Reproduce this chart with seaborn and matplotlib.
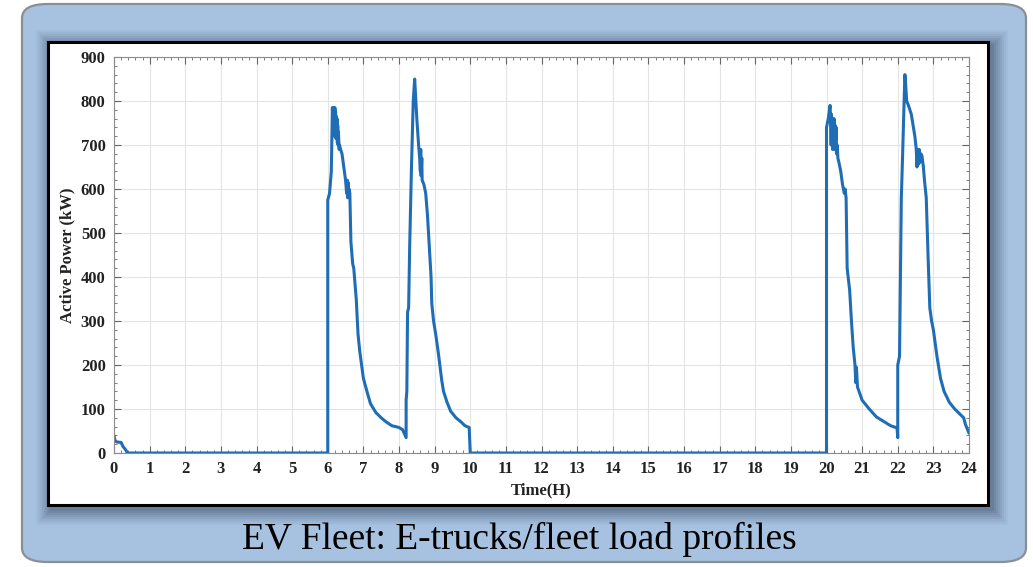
import numpy as np
import pandas as pd
import seaborn as sns
import matplotlib
matplotlib.use("Agg")
import matplotlib.pyplot as plt
from matplotlib.patches import FancyBboxPatch, Rectangle
from matplotlib.ticker import MultipleLocator

time_h = [0, 0.03, 0.08, 0.2, 0.25, 0.32, 0.38, 6.0,
          6.0, 6.05, 6.1, 6.13, 6.15, 6.16, 6.17, 6.18, 6.19, 6.2, 6.21, 6.22, 6.23, 6.24, 6.25, 6.26,
          6.27, 6.28, 6.29, 6.3, 6.32, 6.33, 6.36, 6.4, 6.45, 6.5,
          6.53, 6.55, 6.56, 6.57, 6.58, 6.6, 6.62, 6.65, 6.7, 6.73, 6.8, 6.85, 6.9, 7.0, 7.1, 7.2, 7.35,
          7.5, 7.65, 7.8, 8.0, 8.1, 8.17, 8.2,
          8.2, 8.22, 8.24, 8.27, 8.3, 8.35, 8.4, 8.44, 8.46, 8.5, 8.55, 8.58, 8.6, 8.61, 8.62, 8.64, 8.65,
          8.7, 8.75, 8.8, 8.85, 8.9, 8.92, 8.97, 9.03, 9.1, 9.2, 9.25, 9.35, 9.45, 9.6, 9.75, 9.85, 9.97,
          10.0, 20.0,
          20.0, 20.05, 20.1, 20.12, 20.13, 20.14, 20.15, 20.16, 20.17, 20.18, 20.2, 20.21, 20.22, 20.24,
          20.25, 20.27, 20.28, 20.3, 20.32, 20.35, 20.4, 20.45, 20.5,
          20.52, 20.55, 20.58, 20.65, 20.7, 20.75, 20.8, 20.82, 20.84, 20.87, 21.0, 21.2, 21.4, 21.6, 21.8,
          21.98, 22.0,
          22.0, 22.05, 22.07, 22.1, 22.13, 22.2, 22.22, 22.25, 22.3, 22.38, 22.42, 22.48, 22.52, 22.54,
          22.55, 22.57, 22.6, 22.62, 22.65, 22.68, 22.72, 22.75, 22.8, 22.85, 22.9, 22.95, 23.0, 23.1,
          23.2, 23.3, 23.45, 23.6, 23.75, 23.85, 23.9, 23.95, 24.0]
power_kw = [40, 28, 25, 24, 15, 8, 0, 0,
            575, 590, 640, 785, 730, 785, 725, 780, 720, 785, 735, 775, 715, 765, 730, 760,
            705, 745, 700, 730, 690, 700, 690, 680, 650, 620,
            590, 620, 580, 615, 585, 600, 590, 480, 430, 420, 350, 270, 230, 170, 140, 112, 92,
            80, 70, 62, 58, 53, 40, 35,
            120, 140, 320, 330, 470, 650, 800, 850, 820, 760, 700, 670, 640, 690, 630, 670, 620,
            610, 590, 540, 470, 400, 340, 300, 270, 230, 165, 140, 115, 95, 80, 70, 62, 58,
            0, 0,
            740, 760, 790, 745, 700, 770, 705, 760, 690, 755, 700, 760, 690, 745,
            700, 740, 680, 700, 670, 660, 640, 610, 590,
            600, 580, 420, 370, 300, 240, 200, 160, 195, 150, 120, 100, 82, 72, 62,
            57, 35,
            200, 220, 360, 580, 660, 860, 840, 800, 790, 770, 750, 720, 690, 650,
            690, 655, 690, 660, 680, 675, 650, 620, 580, 450, 330, 300, 280, 220,
            170, 140, 115, 100, 88, 80, 65, 55, 45]

x_ticks = list(range(0, 25))
y_ticks = list(range(0, 901, 100))
x_label = "Time(H)"
y_label = "Active Power (kW)"
caption = "EV Fleet: E-trucks/fleet load profiles"

df = pd.DataFrame({"t": time_h, "p": power_kw})

sns.set_theme(style="white")
plt.rcParams['font.family'] = ['Liberation Serif', 'DejaVu Serif']

W, H = 1033, 567
fig = plt.figure(figsize=(W / 100, H / 100), dpi=100)
fig.patch.set_facecolor("white")

def fx(px): return px / W
def fy(py): return 1 - py / H

# outer rounded box
box = FancyBboxPatch((fx(22), fy(562)), fx(1026) - fx(22), fy(4) - fy(562),
                     boxstyle="round,pad=0,rounding_size=0.025", transform=fig.transFigure,
                     facecolor="#a6c2e0", edgecolor="#8a8f96", linewidth=1.6, zorder=0)
fig.patches.append(box)

# shadow around the white panel
for i, a in enumerate([0.04, 0.05, 0.06, 0.07, 0.08, 0.09, 0.10, 0.12]):
    g = 16 - 2 * i
    r = Rectangle((fx(48 - g + 4), fy(505 + g + 4)), fx(988 + g + 4) - fx(48 - g + 4),
                  fy(42 - g + 4) - fy(505 + g + 4), transform=fig.transFigure,
                  facecolor="#2a3a55", edgecolor="none", alpha=a, zorder=1)
    fig.patches.append(r)

panel = Rectangle((fx(48), fy(505)), fx(988) - fx(48), fy(42) - fy(505), transform=fig.transFigure,
                  facecolor="white", edgecolor="black", linewidth=2.2, zorder=2)
fig.patches.append(panel)

ax = fig.add_axes([fx(114), fy(453), fx(969) - fx(114), fy(57) - fy(453)])
ax.set_zorder(3)
ax.set_facecolor("white")
sns.lineplot(data=df, x="t", y="p", ax=ax, estimator=None, sort=False,
             color="#1f6db5", linewidth=2.2)

ax.set_xlim(0, 24)
ax.set_ylim(0, 900)
ax.set_xticks(x_ticks)
ax.set_yticks(y_ticks)
ax.xaxis.set_minor_locator(MultipleLocator(0.2))
ax.yaxis.set_minor_locator(MultipleLocator(20))
ax.grid(True, which="major", color="#e4e4e4", linewidth=0.8)
ax.set_axisbelow(True)
for s in ax.spines.values():
    s.set_visible(True)
    s.set_color("#8c8c8c")
    s.set_linewidth(0.8)
ax.tick_params(which="both", direction="in", top=True, right=True, bottom=True, left=True,
               color="#666666")
ax.tick_params(which="major", length=5, width=0.8, labelsize=12, pad=6)
ax.tick_params(which="minor", length=2.5, width=0.6)
for lab in ax.get_xticklabels() + ax.get_yticklabels():
    lab.set_fontweight("bold")
    lab.set_color("#222222")
ax.set_xlabel(x_label, fontsize=12, fontweight="bold", color="#222222", labelpad=4)
ax.set_ylabel(y_label, fontsize=12, fontweight="bold", color="#222222", labelpad=4)

fig.text(fx(519), fy(539), caption, ha="center", va="center", fontsize=27, color="black",
         family=["Liberation Serif", "DejaVu Serif"])

fig.savefig("out.png", dpi=100, facecolor="white")
